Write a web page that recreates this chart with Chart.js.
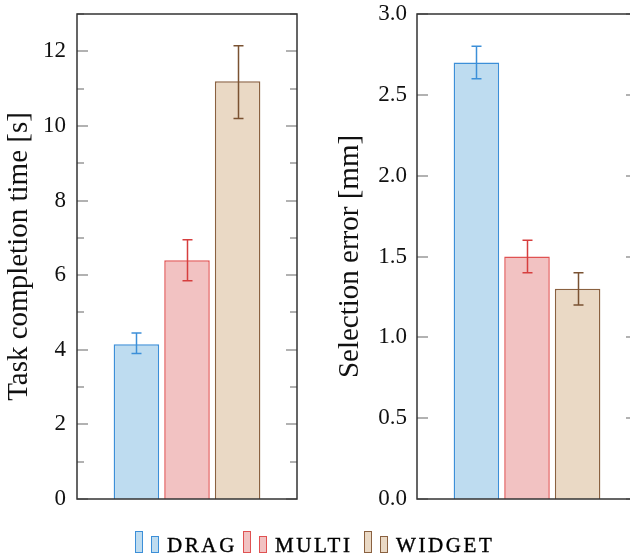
<!DOCTYPE html>
<html>
<head>
<meta charset="utf-8">
<script src="https://cdn.jsdelivr.net/npm/chart.js@4.4.1/dist/chart.umd.min.js"></script>
<style>
	html, body { margin: 0; padding: 0; background: #fff; }
	#wrap { position: relative; width: 630px; height: 559px; overflow: hidden; }
	#timeChart { position: absolute; left: 0; top: 0; }
	#errorChart { position: absolute; left: 320px; top: 0; }
	.item { position: absolute; top: 0; height: 559px; }
	.icon { position: absolute; width: 8px; box-sizing: border-box; border: 1.5px solid; }
	.label { position: absolute; top: 535px; font: 21px "Liberation Serif", serif; line-height: 21px; letter-spacing: 2.6px; color: #000; -webkit-text-stroke: 0.4px #000; white-space: nowrap; }
</style>
</head>
<body>
<div id="wrap">
	<canvas id="timeChart" width="310" height="559"></canvas>
	<canvas id="errorChart" width="320" height="559"></canvas>
	<div id="legend"></div>
</div>
<script>
	// Data
	const conditions = ['DRAG', 'MULTI', 'WIDGET'];
	const timeMeans = [4.15, 6.4, 11.2];
	const timeLow = [3.9, 5.85, 10.2];
	const timeHigh = [4.45, 6.95, 12.15];
	const errorMeans = [2.7, 1.5, 1.3];
	const errorLow = [2.6, 1.4, 1.2];
	const errorHigh = [2.8, 1.6, 1.4];

	// Colors
	const fillColors = ['#bedcf0', '#f2c2c2', '#ead9c5'],
		lineColors = ['#3c8fd8', '#e05252', '#8a6140'],
		whiskerColors = ['#3c8fd8', '#d63e3e', '#7a5232'];

	const fontFamily = '"Liberation Serif", serif';

	// frame + inward ticks on both sides
	const frameTicks = {
		id: 'frameTicks',
		beforeDatasetsDraw(chart, args, opts) {
			const {ctx, chartArea: a, scales: {y}} = chart;
			ctx.save();
			ctx.strokeStyle = '#999';
			ctx.lineWidth = 1.5;
			y.ticks.forEach(function(t) {
				const r = t.value / opts.majorStep;
				const major = Math.abs(r - Math.round(r)) < 1e-6;
				const len = major ? 11 : 7;
				const py = Math.round(y.getPixelForValue(t.value));
				ctx.beginPath();
				ctx.moveTo(a.left, py);
				ctx.lineTo(a.left + len, py);
				ctx.moveTo(a.right, py);
				ctx.lineTo(a.right - len, py);
				ctx.stroke();
			});
			ctx.restore();
		},
		afterDatasetsDraw(chart) {
			const {ctx, chartArea: a} = chart;
			ctx.save();
			ctx.strokeStyle = '#333';
			ctx.lineWidth = 1.5;
			ctx.strokeRect(Math.round(a.left), Math.round(a.top), Math.round(a.right - a.left), Math.round(a.bottom - a.top));
			ctx.restore();
		}
	};

	// error bars drawn through the y scale
	const errorBars = {
		id: 'errorBars',
		afterDatasetsDraw(chart, args, opts) {
			const {ctx, scales: {y}} = chart;
			ctx.save();
			ctx.lineWidth = 1.5;
			chart.data.datasets.forEach(function(ds, i) {
				const bar = chart.getDatasetMeta(i).data[0];
				const x = Math.round(bar.x) + 0.5;
				const yLo = y.getPixelForValue(opts.low[i]);
				const yHi = y.getPixelForValue(opts.high[i]);
				ctx.strokeStyle = whiskerColors[i];
				ctx.beginPath();
				ctx.moveTo(x, yLo);
				ctx.lineTo(x, yHi);
				ctx.moveTo(x - 5, yLo);
				ctx.lineTo(x + 5, yLo);
				ctx.moveTo(x - 5, yHi);
				ctx.lineTo(x + 5, yHi);
				ctx.stroke();
			});
			ctx.restore();
		}
	};

	function makeChart(el, means, low, high, yOpts) {
		return new Chart(el, {
			type: 'bar',
			data: {
				labels: [''],
				datasets: conditions.map(function(c, i) {
					return {
						label: c,
						data: [means[i]],
						backgroundColor: fillColors[i],
						borderColor: lineColors[i],
						borderWidth: 1.5,
						borderSkipped: 'bottom',
						categoryPercentage: 0.69,
						barPercentage: 0.9
					};
				})
			},
			options: {
				responsive: false,
				animation: false,
				events: [],
				layout: {
					padding: yOpts.padding
				},
				plugins: {
					legend: { display: false },
					tooltip: { enabled: false },
					frameTicks: { majorStep: yOpts.majorStep },
					errorBars: { low: low, high: high }
				},
				scales: {
					x: { display: false },
					y: {
						min: 0,
						max: yOpts.max,
						afterFit: function(scale) {
							scale.width = yOpts.axisWidth;
							scale.paddingTop = 0;
						},
						grid: { display: false, drawTicks: false },
						border: { display: false },
						title: {
							display: true,
							text: yOpts.title,
							color: '#111',
							font: { family: fontFamily, size: 29 },
							padding: { top: yOpts.titlePad, bottom: 0 }
						},
						ticks: {
							stepSize: yOpts.step,
							autoSkip: false,
							padding: yOpts.tickPad,
							color: '#111',
							font: { family: fontFamily, size: 23 },
							callback: yOpts.format
						}
					}
				}
			},
			plugins: [frameTicks, errorBars]
		});
	}

	makeChart(document.getElementById('timeChart'), timeMeans, timeLow, timeHigh, {
		max: 13,
		step: 1,
		majorStep: 2,
		title: 'Task completion time [s]',
		titlePad: 2,
		tickPad: 11,
		axisWidth: 77,
		padding: { left: 0, top: 14, right: 13, bottom: 60 },
		format: function(v) { return v % 2 === 0 ? v : ''; }
	});

	makeChart(document.getElementById('errorChart'), errorMeans, errorLow, errorHigh, {
		max: 3,
		step: 0.5,
		majorStep: 0.5,
		title: 'Selection error [mm]',
		titlePad: 13,
		tickPad: 10,
		axisWidth: 97,
		padding: { left: 0, top: 14, right: 3, bottom: 60 },
		format: function(v) { return v.toFixed(1); }
	});

	// Legend (two bars per entry, like the ybar legend image)
	const legendX = [135, 243, 364];
	const legend = document.getElementById('legend');
	conditions.forEach(function(c, i) {
		const item = document.createElement('div');
		item.className = 'item';
		item.style.left = legendX[i] + 'px';
		item.innerHTML =
			'<div class="icon" style="left:0;top:531px;height:22px;background:' + fillColors[i] + ';border-color:' + lineColors[i] + '"></div>' +
			'<div class="icon" style="left:16px;top:536px;height:17px;background:' + fillColors[i] + ';border-color:' + lineColors[i] + '"></div>' +
			'<div class="label" style="left:32px">' + c + '</div>';
		legend.appendChild(item);
	});
</script>
</body>
</html>
